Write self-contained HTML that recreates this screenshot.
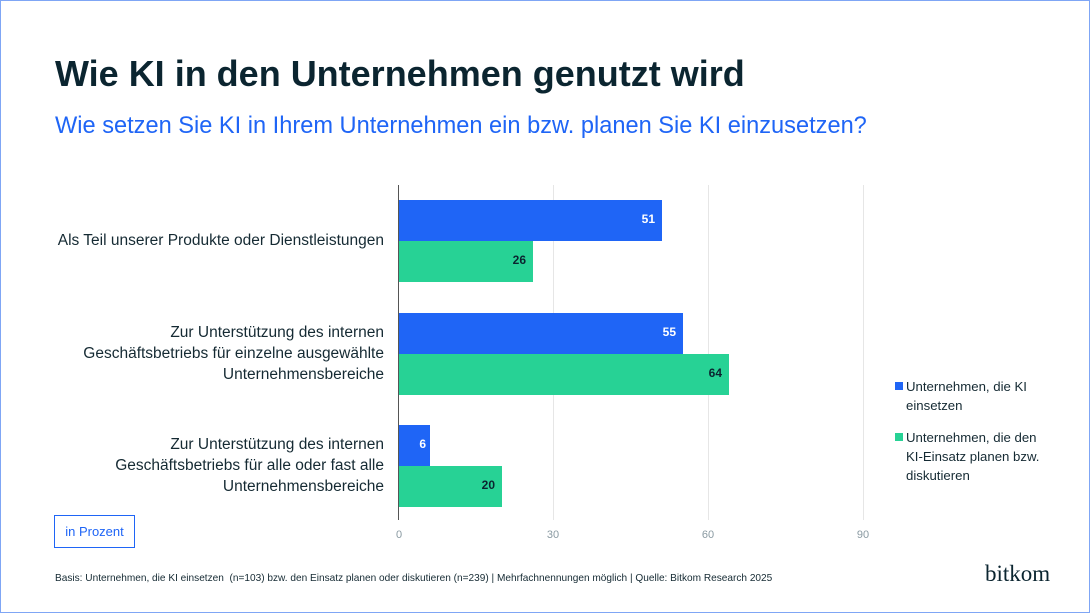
<!DOCTYPE html>
<html><head><meta charset="utf-8"><style>
body{margin:0;width:1090px;height:613px;overflow:hidden;background:#fff;font-family:"Liberation Sans",sans-serif;}
#f{position:absolute;left:0;top:0;width:1088px;height:611px;border:1px solid #7fa6f5;}
.a{position:absolute;white-space:nowrap;}
.lab{position:absolute;right:706px;text-align:right;font-size:15.5px;line-height:21px;color:#152a33;}
.bar{position:absolute;left:399px;height:41px;}
.b{background:#1f65f6;}.g{background:#27d295;}
.v{position:absolute;right:7px;top:12px;font-size:12px;font-weight:bold;}
.grid{position:absolute;top:185px;height:335px;width:1px;background:#e6e6e6;}
.tk{position:absolute;top:529px;font-size:11px;color:#8a9aa2;width:40px;text-align:center;}
</style></head><body><div id="f"></div>
<div class="a" style="left:55px;top:53px;font-size:36px;font-weight:bold;color:#0b2530;">Wie KI in den Unternehmen genutzt wird</div>
<div class="a" style="left:55px;top:113px;font-size:23.6px;color:#1f65f6;">Wie setzen Sie KI in Ihrem Unternehmen ein bzw. planen Sie KI einzusetzen?</div>
<div class="grid" style="left:553px"></div><div class="grid" style="left:708px"></div><div class="grid" style="left:863px"></div>
<div class="a" style="left:398px;top:185px;width:1px;height:335px;background:#555;"></div>
<div class="bar b" style="top:200px;width:263px"><span class="v" style="color:#fff">51</span></div>
<div class="bar g" style="top:241px;width:134px"><span class="v" style="color:#0b2530">26</span></div>
<div class="bar b" style="top:313px;width:284px"><span class="v" style="color:#fff">55</span></div>
<div class="bar g" style="top:354px;width:330px"><span class="v" style="color:#0b2530">64</span></div>
<div class="bar b" style="top:425px;width:31px"><span class="v" style="color:#fff;right:4px">6</span></div>
<div class="bar g" style="top:466px;width:103px"><span class="v" style="color:#0b2530">20</span></div>
<div class="lab" style="top:230px">Als Teil unserer Produkte oder Dienstleistungen</div>
<div class="lab" style="top:322px">Zur Unterstützung des internen<br>Geschäftsbetriebs für einzelne ausgewählte<br>Unternehmensbereiche</div>
<div class="lab" style="top:434px">Zur Unterstützung des internen<br>Geschäftsbetriebs für alle oder fast alle<br>Unternehmensbereiche</div>
<div class="tk" style="left:379px">0</div><div class="tk" style="left:533px">30</div><div class="tk" style="left:688px">60</div><div class="tk" style="left:843px">90</div>
<div class="a" style="left:54px;top:515px;width:79px;height:31px;border:1px solid #1f65f6;color:#1f65f6;font-size:13px;line-height:31px;text-align:center;">in Prozent</div>
<div class="a" style="left:895px;top:382px;width:8px;height:8px;background:#1f65f6"></div>
<div class="a" style="left:906px;top:377px;font-size:13.2px;line-height:19px;color:#152a33;">Unternehmen, die KI<br>einsetzen</div>
<div class="a" style="left:895px;top:433px;width:8px;height:8px;background:#27d295"></div>
<div class="a" style="left:906px;top:428px;font-size:13.2px;line-height:19px;color:#152a33;">Unternehmen, die den<br>KI-Einsatz planen bzw.<br>diskutieren</div>
<div class="a" style="left:55px;top:573px;font-size:10.1px;color:#152a33;">Basis: Unternehmen, die KI einsetzen&nbsp; (n=103) bzw. den Einsatz planen oder diskutieren (n=239) | Mehrfachnennungen möglich | Quelle: Bitkom Research 2025</div>
<div class="a" style="left:985px;top:561px;font-size:23px;font-family:'Liberation Serif',serif;color:#0b2530;">bitkom</div>
</body></html>
